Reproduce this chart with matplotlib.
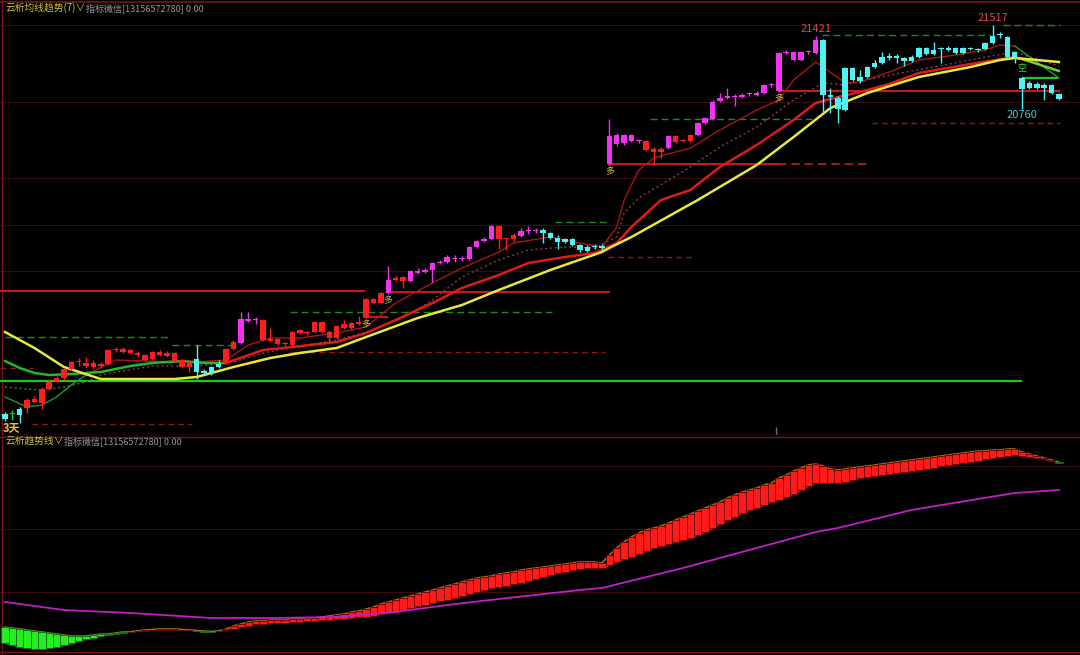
import numpy as np
import matplotlib
matplotlib.use('Agg')
import matplotlib.pyplot as plt

plt.rcParams['font.family'] = ['Noto Sans CJK SC', 'DejaVu Sans']

# ---- K线 (开, 收, 高, 低) ----
opens = [18016, 18016, 18061, 18070, 18124, 18115, 18241, 18313, 18340, 18421,
         18484, 18448, 18439, 18448, 18466, 18588, 18574, 18565, 18547, 18502,
         18511, 18547, 18538, 18493, 18439, 18439, 18511, 18403, 18439, 18466,
         18475, 18601, 18655, 18853, 18860, 18682, 18673, 18646, 18644, 18637,
         18745, 18743, 18754, 18754, 18754, 18700, 18790, 18790, 18826, 18889,
         19015, 19015, 19105, 19222, 19213, 19213, 19285, 19294, 19312, 19375,
         19384, 19409, 19409, 19411, 19519, 19573, 19591, 19708, 19589, 19591,
         19618, 19661, 19661, 19672, 19645, 19600, 19591, 19591, 19537, 19519,
         19521, 19528, 20266, 20446, 20455, 20473, 20471, 20473, 20401, 20374,
         20410, 20518, 20482, 20473, 20527, 20635, 20671, 20833, 20860, 20869,
         20869, 20894, 20887, 20905, 20975, 20923, 21265, 21202, 21202, 21272,
         21265, 21382, 20887, 20860, 20752, 21130, 21013, 21049, 21139, 21175,
         21238, 21238, 21220, 21193, 21229, 21310, 21256, 21303, 21292, 21310,
         21265, 21310, 21294, 21301, 21355, 21429, 21409, 21274, 21040, 20995,
         20986, 20977, 20977, 20896]
closes = [17971, 18016, 18007, 18142, 18151, 18241, 18304, 18340, 18421, 18484,
          18490, 18475, 18475, 18466, 18592, 18592, 18601, 18592, 18565, 18547,
          18574, 18574, 18565, 18565, 18502, 18484, 18394, 18385, 18385, 18439,
          18601, 18664, 18871, 18871, 18864, 18862, 18691, 18691, 18648, 18754,
          18772, 18747, 18844, 18844, 18700, 18808, 18826, 18835, 18844, 19051,
          19051, 19105, 19222, 19240, 19249, 19303, 19303, 19312, 19375, 19384,
          19429, 19413, 19413, 19519, 19573, 19591, 19708, 19591, 19593, 19627,
          19663, 19665, 19665, 19645, 19600, 19564, 19564, 19537, 19492, 19483,
          19517, 19510, 20518, 20527, 20527, 20527, 20475, 20392, 20374, 20401,
          20518, 20464, 20473, 20527, 20635, 20680, 20824, 20860, 20878, 20878,
          20887, 20898, 20905, 20977, 20979, 21265, 21274, 21274, 21274, 21276,
          21382, 20887, 20869, 20761, 21130, 21022, 21049, 21139, 21175, 21229,
          21220, 21220, 21193, 21229, 21310, 21256, 21292, 21299, 21310, 21265,
          21310, 21301, 21290, 21355, 21418, 21425, 21229, 21229, 20941, 20950,
          20950, 20950, 20905, 20851]
highs = [18034, 18052, 18079, 18160, 18178, 18259, 18322, 18358, 18430, 18493,
         18520, 18529, 18502, 18484, 18601, 18619, 18619, 18601, 18583, 18556,
         18583, 18592, 18583, 18574, 18511, 18502, 18637, 18421, 18448, 18502,
         18610, 18682, 18934, 18934, 18889, 18871, 18790, 18700, 18664, 18763,
         18781, 18763, 18853, 18853, 18772, 18817, 18862, 18844, 18898, 19060,
         19060, 19114, 19348, 19258, 19258, 19312, 19330, 19330, 19384, 19402,
         19447, 19447, 19438, 19528, 19582, 19609, 19717, 19717, 19600, 19645,
         19690, 19708, 19690, 19690, 19654, 19627, 19600, 19600, 19546, 19537,
         19546, 19546, 20671, 20545, 20536, 20536, 20491, 20482, 20419, 20419,
         20527, 20527, 20491, 20536, 20644, 20689, 20842, 20905, 20950, 20896,
         20905, 20914, 20923, 20986, 20995, 21274, 21292, 21283, 21279, 21292,
         21421, 21391, 20950, 20878, 21139, 21139, 21112, 21148, 21202, 21274,
         21265, 21256, 21229, 21247, 21319, 21319, 21364, 21319, 21328, 21319,
         21319, 21319, 21310, 21364, 21517, 21454, 21418, 21283, 21049, 21013,
         21004, 20995, 20986, 20905]
lows = [17953, 17962, 17935, 18025, 18115, 18061, 18232, 18304, 18322, 18412,
        18448, 18430, 18421, 18430, 18457, 18574, 18565, 18556, 18529, 18493,
        18502, 18538, 18529, 18484, 18430, 18394, 18331, 18367, 18367, 18430,
        18466, 18592, 18646, 18844, 18826, 18673, 18664, 18637, 18628, 18628,
        18736, 18727, 18745, 18745, 18673, 18691, 18781, 18781, 18817, 18880,
        19006, 19006, 19096, 19213, 19150, 19204, 19276, 19285, 19204, 19366,
        19375, 19384, 19393, 19402, 19510, 19564, 19582, 19501, 19492, 19564,
        19609, 19636, 19645, 19555, 19591, 19501, 19555, 19528, 19474, 19474,
        19501, 19492, 20257, 20428, 20437, 20464, 20455, 20383, 20257, 20320,
        20401, 20455, 20464, 20464, 20518, 20626, 20662, 20824, 20851, 20788,
        20860, 20878, 20878, 20896, 20959, 20914, 21256, 21193, 21193, 21256,
        21256, 20725, 20725, 20635, 20743, 21013, 20995, 21040, 21130, 21166,
        21202, 21175, 21148, 21184, 21220, 21247, 21247, 21175, 21283, 21256,
        21256, 21292, 21274, 21292, 21346, 21400, 21220, 21175, 20760, 20941,
        20941, 20842, 20896, 20842]
# 颜色: r红 m紫 c青 g绿
kcolor = ("cgc" "rrrrrrrrrrrrrrrrrrrrrrr" "cccc" "rr" "mmm" "rrrrrrrrrrrrrrrrr"
          "m" "rr" "mmmmmmmmmmmm" "rrr" "mmm" "ccccccccc" "mmmmm" "rrr" "m"
          "rrr" "mmmmmmmmmmmmmmmmm" "ccccccccccccccccccccccccccccccccc")

# ---- 均线 (索引, 价格) ----
ma_long_i = [0, 4, 8, 13, 23, 26, 31, 36, 40, 45, 49, 56, 62, 67, 74, 81, 82, 85,
             94, 102, 107, 112, 114, 117, 124, 131, 135, 137, 143]
ma_long_p = [18754, 18610, 18439, 18331, 18331, 18349, 18439, 18520, 18565, 18610,
             18709, 18880, 18997, 19132, 19312, 19474, 19510, 19609, 19942, 20257,
             20509, 20770, 20824, 20905, 21049, 21139, 21202, 21220, 21184]
ma_mid_i = [0, 2, 4, 6, 9, 13, 17, 20, 24, 27, 30, 35, 39, 45, 49, 53, 58, 62, 67,
            71, 76, 80, 83, 85, 89, 93, 97, 102, 107, 110, 113, 116, 120, 124,
            131, 137, 138, 143]
ma_mid_p = [18493, 18430, 18385, 18367, 18376, 18394, 18448, 18475, 18493, 18475,
            18475, 18592, 18619, 18664, 18745, 18862, 19015, 19150, 19267, 19375,
            19429, 19465, 19555, 19699, 19942, 20032, 20239, 20437, 20662, 20815,
            20869, 20914, 20986, 21085, 21166, 21229, 21211, 21103]
ma_fast_i = [0, 3, 5, 7, 9, 11, 15, 23, 26, 30, 33, 36, 40, 45, 49, 53, 58, 62,
             67, 69, 74, 78, 81, 83, 84, 86, 88, 93, 97, 102, 105, 107, 110, 111,
             114, 116, 120, 124, 129, 133, 135, 137, 140, 143]
ma_fast_p = [18169, 18079, 18097, 18169, 18277, 18367, 18502, 18484, 18484, 18502,
             18637, 18700, 18700, 18745, 18799, 19015, 19195, 19330, 19474, 19555,
             19609, 19555, 19519, 19699, 19942, 20212, 20320, 20410, 20572, 20752,
             20842, 21022, 21184, 21139, 20995, 21004, 21094, 21202, 21247, 21292,
             21337, 21328, 21184, 21040]
ma_dot_i = [0, 3, 5, 8, 11, 13, 20, 26, 31, 35, 40, 45, 49, 54, 58, 62, 67, 71, 76,
            80, 83, 84, 86, 93, 97, 102, 107, 111, 114, 120, 126, 133, 137, 143]
ma_dot_p = [18259, 18241, 18232, 18259, 18304, 18367, 18448, 18448, 18484, 18565,
            18628, 18682, 18754, 18880, 19042, 19249, 19402, 19492, 19519, 19510,
            19609, 19825, 19960, 20239, 20419, 20599, 20842, 20995, 20977, 21067,
            21139, 21229, 21274, 21148]

# ---- 水平线 (起, 止, 价格) ----
green_solid = [(-0.7, 138.0, 18313), (138.0, 142.9, 21040)]
red_solid = [(-0.7, 48.9, 19123), (48.6, 52.0, 18889), (52.0, 82.1, 19110),
             (81.8, 104.9, 20266), (104.9, 143.1, 20923)]
red_dash = [(104.9, 117.4, 20266)]
dark_dash = [(-0.7, 3.8, 18430), (3.7, 25.4, 17926), (38.7, 81.4, 18574),
             (81.8, 93.2, 19429), (117.6, 143.1, 20635)]
green_dash = [(0.0, 22.4, 18709), (22.7, 30.9, 18637), (38.7, 74.2, 18934),
              (74.6, 82.1, 19744), (87.5, 109.5, 20671), (110.9, 133.6, 21427),
              (135.4, 143.1, 21517)]
grid_top = [21517, 20824, 20140, 19717, 19303]

long_sig = [49, 52, 82, 105]
short_sig = [138]

# ---- 副图: 云析趋势线 ----
fast = [12, 10, 8, 7, 6, 6, 7, 8, 10, 12, 14, 16, 17, 19, 20, 21, 22, 23, 24, 25,
        25.5, 26, 26, 26, 25.5, 25, 24, 23, 23, 24, 26, 29, 31, 33, 34, 34, 35, 35,
        35, 36, 36, 37, 37, 38, 39, 40, 41, 43, 44, 46, 48, 51, 53, 55, 57, 59, 61,
        63, 65, 67, 69, 71, 73, 75, 77, 78, 79, 81, 82, 83, 85, 86, 87, 88, 89, 90,
        91, 92, 93, 93, 93, 92, 100, 107, 113, 118, 122, 125, 127, 129, 132, 135,
        138, 141, 144, 147, 150, 153, 157, 160, 163, 165, 167, 170, 172, 177, 180,
        184, 187, 190, 191, 189, 186, 185, 186, 187, 188, 189, 190, 191, 192, 193,
        194, 195, 196, 197, 198, 199, 200, 201, 202, 203, 204, 204, 205, 205, 206,
        206, 203, 201, 199, 197, 195, 192.5]
slow = [28, 27, 26, 25, 24, 23, 22, 21, 20, 19, 19, 19, 20, 21, 21, 22, 23, 23, 24,
        24.5, 25, 25.5, 25.5, 25.5, 25, 25, 24.5, 24, 23.5, 24, 25, 26, 28, 29, 31,
        31, 32, 32, 32, 33, 33, 34, 34, 35, 35, 36, 36, 37, 38, 38, 39, 41, 42, 43,
        45, 47, 49, 50, 52, 54, 55, 57, 59, 61, 63, 65, 67, 68, 69, 71, 72, 74, 76,
        78, 80, 82, 83, 85, 86, 87, 87, 87, 90, 93, 96, 98, 101, 104, 107, 109, 111,
        113, 115, 117, 120, 123, 127, 131, 135, 138, 142, 145, 147, 150, 153, 155,
        158, 161, 165, 169, 172, 172, 172, 172, 173, 175, 177, 178, 179, 180, 181,
        182, 183, 184, 185, 186, 187, 189, 190, 191, 192, 193, 194, 196, 197, 198,
        199, 200, 199, 198, 197, 196, 194.5, 193]
mag_i = [0, 8, 17, 28, 36, 45, 53, 60, 67, 78, 81, 92, 101, 110, 113, 123, 132, 137, 143]
mag_v = [53, 45, 42, 37, 37, 38, 43, 50, 56, 65, 67, 87, 105, 123, 127, 145, 156, 162, 165]
grid_bot = [189, 126, 63]

# ---- 画图 ----
W, H = 1080, 655
fig = plt.figure(figsize=(W / 100, H / 100), dpi=100, facecolor='black')
ax = fig.add_axes([0, 220 / H, 1, 435 / H])
ax2 = fig.add_axes([0, 0, 1, 219 / H])
xlim = (-5 / 7.37, 1075 / 7.37)
for a in (ax, ax2):
    a.set_facecolor('black')
    a.set_xlim(*xlim)
    a.axis('off')
ax.set_ylim(17827, 21742)
ax2.set_ylim(0, 219)

frame = '#7a1414'
gridc = '#3c0c0c'
for p in grid_top:
    ax.axhline(p, color=gridc, lw=0.8, zorder=0)
for v in grid_bot:
    ax2.axhline(v, color=gridc, lw=0.8, zorder=0)
ax.axhline(21724, color=frame, lw=1.2)
ax.axhline(17830, color=frame, lw=1.0)
ax2.axhline(218.5, color=frame, lw=1.0)
ax2.axhline(3, color=frame, lw=1.0)
for a in (ax, ax2):
    a.axvline(-0.41, color=frame, lw=1.0)
ax.vlines(104.6, 17827, 17900, color='#707070', lw=1)

# 水平线
for x0, x1, p in green_solid:
    ax.hlines(p, x0, x1, color='#22c422', lw=1.6, zorder=2)
for x0, x1, p in red_solid:
    ax.hlines(p, x0, x1, color='#d01818', lw=1.4, zorder=2)
for x0, x1, p in red_dash:
    ax.hlines(p, x0, x1, color='#c02020', lw=1.2, ls=(0, (5, 3)), zorder=2)
for x0, x1, p in dark_dash:
    ax.hlines(p, x0, x1, color='#8a1a1a', lw=1.0, ls=(0, (4, 3)), zorder=2)
for x0, x1, p in green_dash:
    ax.hlines(p, x0, x1, color='#1e8a1e', lw=1.0, ls=(0, (5, 3)), zorder=2)


def seg_line(a, xs, ys, parts, **kw):
    xs = np.asarray(xs)
    ys = np.asarray(ys)
    for lo, hi, c in parts:
        m = (xs >= lo) & (xs <= hi)
        a.plot(xs[m], ys[m], color=c, **kw)


seg_line(ax, ma_dot_i, ma_dot_p, [(0, 11, '#1f8f3f'), (11, 143, '#8a3a5a')],
         lw=1.0, ls=(0, (1.5, 2)), zorder=3)
seg_line(ax, ma_fast_i, ma_fast_p, [(0, 11, '#1f9a2a'), (11, 137, '#a81616'),
                                     (137, 143, '#2a9a2a')], lw=1.0, zorder=3)
seg_line(ax, ma_mid_i, ma_mid_p, [(0, 30, '#22b82a'), (30, 138, '#e01a1a'),
                                   (138, 143, '#7acc30')], lw=1.8, zorder=3)
ax.plot(ma_long_i, ma_long_p, color='#e8e83c', lw=1.8, zorder=3)

# K线
idx = np.arange(len(opens))
cmap = {'r': '#ff1e1e', 'm': '#f432f4', 'c': '#52f2f2', 'g': '#22d022'}
col = [cmap[k] for k in kcolor]
o = np.array(opens)
c = np.array(closes)
body_lo = np.minimum(o, c)
body_h = np.maximum(np.abs(c - o), 9)
ax.vlines(idx, lows, highs, colors=col, lw=1.0, zorder=4)
ax.bar(idx, body_h, bottom=body_lo, width=0.74, color=col, lw=0, zorder=5)

# 标注
ax.annotate('21421', xy=(110, highs[110]), xytext=(0, 1.5), textcoords='offset points',
            ha='center', va='bottom', color='#e04848', fontsize=8)
ax.annotate('21517', xy=(134, highs[134]), xytext=(0, 1.5), textcoords='offset points',
            ha='center', va='bottom', color='#e04848', fontsize=8)
ax.annotate('20760', xy=(138, lows[138]), xytext=(0, -1), textcoords='offset points',
            ha='center', va='top', color='#3ccccc', fontsize=8)
for i in long_sig:
    ax.annotate('多', xy=(i, lows[i]), xytext=(0, -1.5), textcoords='offset points',
                ha='center', va='top', color='#d8c040', fontsize=6.5)
for i in short_sig:
    ax.annotate('空', xy=(i, highs[i]), xytext=(0, 2.5), textcoords='offset points',
                ha='center', va='bottom', color='#50d050', fontsize=6.5)

# 副图
f = np.array(fast)
s = np.array(slow)
up = f >= s
ax2.plot(idx, f, color='#8a7420', lw=1.2, zorder=2)
ax2.plot(idx, s, color='#8a7420', lw=1.2, zorder=2)
ax2.bar(idx[up], (f - s)[up], bottom=s[up], width=1.0, color='#ff1a1a',
        edgecolor='#6a0000', lw=0.6, zorder=3)
ax2.bar(idx[~up], (s - f)[~up], bottom=f[~up], width=1.0, color='#22ee22',
        edgecolor='#0a6a0a', lw=0.6, zorder=3)
ax2.plot(mag_i, mag_v, color='#c020c8', lw=1.3, zorder=4)

# 文字
fig.text(5 / W, 1 - 8 / H, '云析均线趋势(7)∨', color='#c8c83c', fontsize=7, va='center')
fig.text(86 / W, 1 - 8 / H, '指标微信[13156572780] 0.00', color='#9a9a9a', fontsize=6.5, va='center')
fig.text(5 / W, 1 - 441 / H, '云析趋势线∨', color='#c8c83c', fontsize=7, va='center')
fig.text(64 / W, 1 - 441 / H, '指标微信[13156572780] 0.00', color='#9a9a9a', fontsize=6.5, va='center')
fig.text(3 / W, 1 - 428 / H, '3天', color='#e8c040', fontsize=8, fontweight='bold', va='center')

fig.savefig('out.png', dpi=100, facecolor='black')
